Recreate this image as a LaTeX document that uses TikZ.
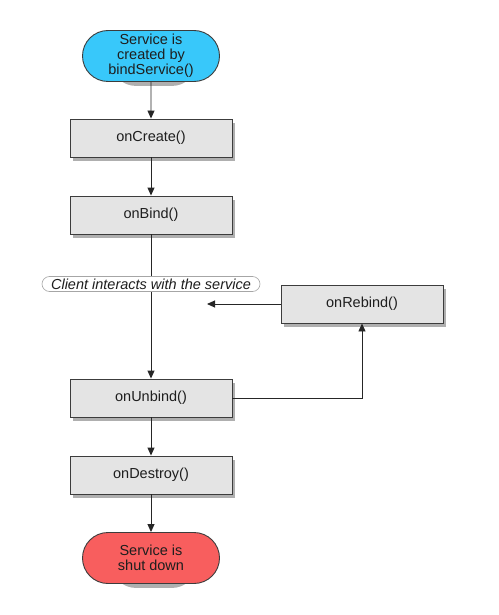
\documentclass[tikz,border=0pt]{standalone}
\usepackage{fontspec}
\setmainfont{Liberation Sans}
\usetikzlibrary{shapes.misc,arrows.meta,calc,backgrounds}
\definecolor{boxfill}{RGB}{228,228,228}
\definecolor{boxdraw}{RGB}{60,60,60}
\definecolor{startfill}{RGB}{56,200,250}
\definecolor{endfill}{RGB}{248,94,94}
\definecolor{txt}{RGB}{30,30,30}
\definecolor{shade}{RGB}{175,175,175}
\tikzset{
  stepbox/.style={rectangle, draw=boxdraw, fill=boxfill, line width=0.9pt,
    minimum width=162pt, minimum height=38pt, inner sep=0pt, text=txt,
    font=\fontsize{14.5}{15}\selectfont},
  pill/.style={rounded rectangle, draw=boxdraw, line width=0.9pt,
    minimum width=137pt, minimum height=51pt, inner sep=0pt, align=center, text=txt,
    font=\fontsize{14.5}{15}\selectfont},
  note/.style={rounded rectangle, draw=gray!70, fill=white, line width=0.6pt,
    minimum width=218pt, minimum height=15pt, inner sep=0pt, text=txt,
    font=\fontsize{14.5}{15}\selectfont\itshape},
  flow/.style={draw=black!85, line width=0.9pt, -{Triangle[length=8pt,width=7pt]}},
  shadowfill/.style={fill=shade}
}
\begin{document}
\begin{tikzpicture}[x=1pt,y=-1pt]
\useasboundingbox (0,0) rectangle (498,615);
\node[pill, fill=startfill] (start) at (151,56) {Service is\\created by\\bindService()};
\node[stepbox] (create) at (151,138) {onCreate()};
\node[stepbox] (bind) at (151,215) {onBind()};
\node[stepbox] (unbind) at (151,398) {onUnbind()};
\node[stepbox] (destroy) at (151,475) {onDestroy()};
\node[stepbox] (rebind) at (362,304) {onRebind()};
\node[pill, fill=endfill] (stop) at (151,558) {Service is\\shut down};
\begin{scope}[on background layer]
  \foreach \n in {create,bind,unbind,destroy,rebind}
    \fill[shadowfill] ($(\n.south west)+(3,4)$) rectangle ($(\n.north east)+(3,4)$);
  \foreach \n in {start,stop}
    \fill[shadowfill, rounded corners=25pt] ($(\n.south west)+(3,4)$) rectangle ($(\n.north east)+(3,4)$);
\end{scope}
\coordinate (back) at (207,304);
\draw[flow] (start) -- (create);
\draw[flow] (create) -- (bind);
\draw[flow] (bind) -- (unbind);
\node[note] (client) at (151,284) {Client interacts with the service};
\draw[flow] (unbind) -- (destroy);
\draw[flow] (destroy) -- (stop);
\draw[flow] (unbind.east) -| (rebind.south);
\draw[flow] (rebind.west) -- (back);
\end{tikzpicture}
\end{document}
